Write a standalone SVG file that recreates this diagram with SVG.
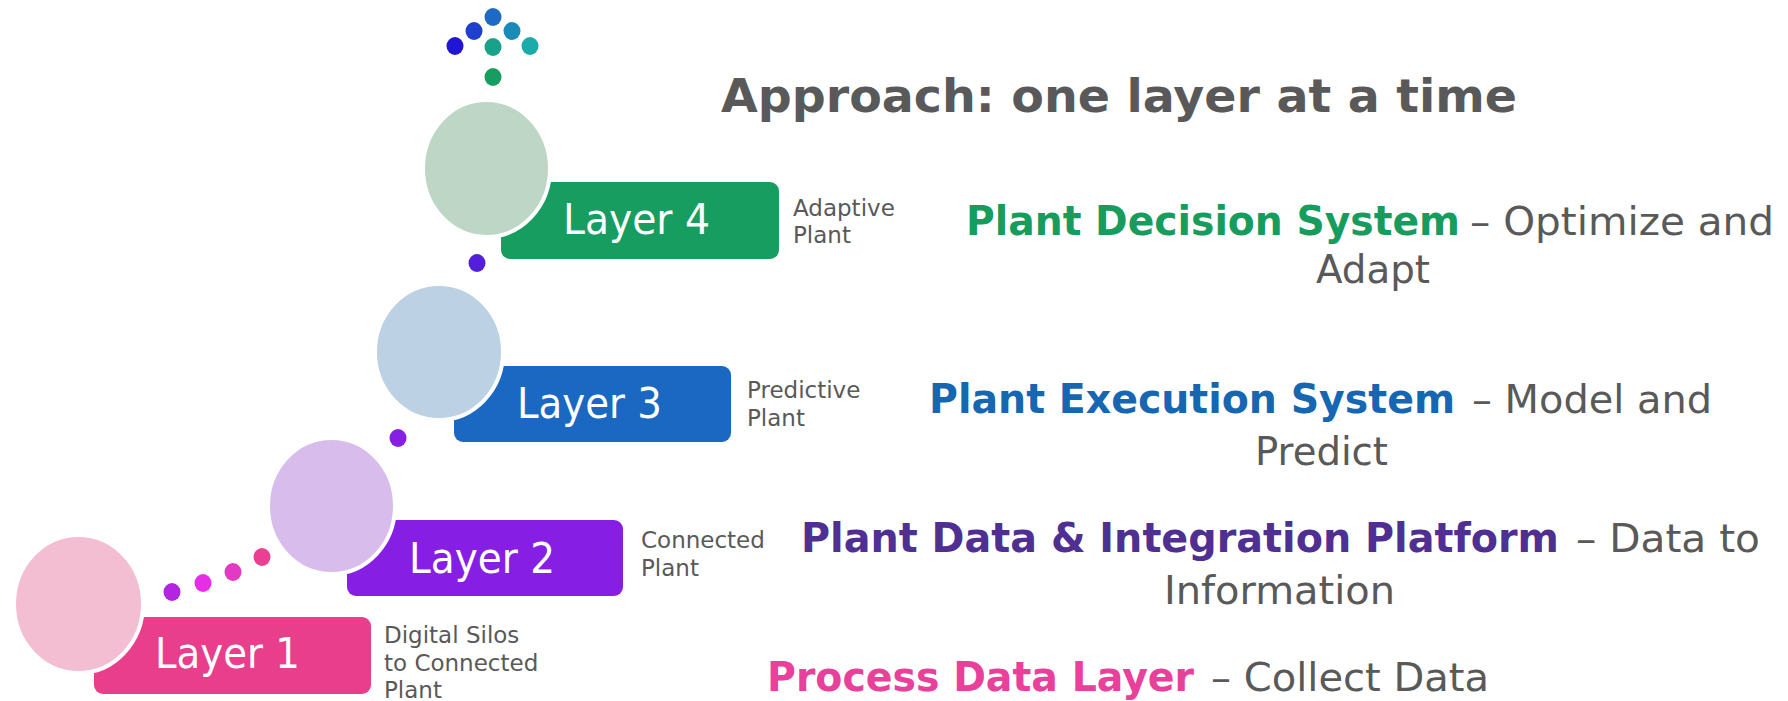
<svg xmlns="http://www.w3.org/2000/svg" width="1788" height="701" viewBox="0 0 1788 701">
  <style>
    .bubble { stroke: #ffffff; stroke-width: 4; }
    .box-label { font-family: "DejaVu Sans", Verdana, sans-serif; font-size: 42px; fill: #ffffff; }
    .side { font-family: "DejaVu Sans", Verdana, sans-serif; font-size: 23px; fill: #595959; }
    .title { font-family: "DejaVu Sans", Verdana, sans-serif; font-weight: bold; font-size: 46.5px; fill: #595959; }
    .head { font-family: "DejaVu Sans", Verdana, sans-serif; font-weight: bold; font-size: 40px; }
    .rest { font-family: "DejaVu Sans", Verdana, sans-serif; font-size: 39px; fill: #595959; }
  </style>
  <rect width="1788" height="701" fill="#ffffff"/>

  <!-- dotted trails between the stages -->
  <g id="connectors">
    <ellipse cx="172" cy="592" rx="8.5" ry="9" fill="#b325e0"/>
    <ellipse cx="203" cy="583" rx="8.5" ry="9" fill="#e62ee6"/>
    <ellipse cx="233" cy="572" rx="8.5" ry="9" fill="#e23ac2"/>
    <ellipse cx="262" cy="557" rx="8.5" ry="9" fill="#ea4093"/>
    <ellipse cx="398" cy="438" rx="8.5" ry="9" fill="#861ee3"/>
    <ellipse cx="477" cy="263" rx="8.5" ry="9" fill="#531fda"/>
    <!-- arrow-shaped cluster above the top stage -->
    <ellipse cx="493" cy="77" rx="8.5" ry="9" fill="#179c62"/>
    <ellipse cx="493" cy="47" rx="8.5" ry="9" fill="#19a28a"/>
    <ellipse cx="455" cy="46" rx="8.5" ry="9" fill="#1f15d2"/>
    <ellipse cx="474" cy="31" rx="8.5" ry="9" fill="#1e40cc"/>
    <ellipse cx="493" cy="17" rx="8.5" ry="9" fill="#1e69c3"/>
    <ellipse cx="512" cy="31" rx="8.5" ry="9" fill="#1a8ab8"/>
    <ellipse cx="530" cy="46" rx="8.5" ry="9" fill="#1aabaa"/>
  </g>

  <g id="layer1">
    <rect x="94" y="617" width="277" height="77" rx="9" fill="#e83e8c"/>
    <ellipse class="bubble" cx="78.5" cy="604" rx="64.5" ry="69" fill="#f4bed2"/>
    <text class="box-label" x="155" y="668" textLength="145" lengthAdjust="spacingAndGlyphs">Layer 1</text>
    <text class="side" x="384" y="643">Digital Silos</text>
    <text class="side" x="384" y="671">to Connected</text>
    <text class="side" x="384" y="698">Plant</text>
  </g>

  <g id="layer2">
    <rect x="347" y="520" width="276" height="76" rx="9" fill="#861ee3"/>
    <ellipse class="bubble" cx="331.5" cy="506" rx="63.5" ry="68" fill="#d8bdec"/>
    <text class="box-label" x="409" y="573" textLength="146" lengthAdjust="spacingAndGlyphs">Layer 2</text>
    <text class="side" x="641" y="548">Connected</text>
    <text class="side" x="641" y="576">Plant</text>
  </g>

  <g id="layer3">
    <rect x="454" y="366" width="277" height="76" rx="9" fill="#1a68c2"/>
    <ellipse class="bubble" cx="439" cy="352" rx="64" ry="68" fill="#bcd1e3"/>
    <text class="box-label" x="517" y="418" textLength="145" lengthAdjust="spacingAndGlyphs">Layer 3</text>
    <text class="side" x="747" y="398">Predictive</text>
    <text class="side" x="747" y="426">Plant</text>
  </g>

  <g id="layer4">
    <rect x="501" y="182" width="278" height="77" rx="9" fill="#179d60"/>
    <ellipse class="bubble" cx="486.5" cy="168.5" rx="63.5" ry="68.5" fill="#bdd6c6"/>
    <text class="box-label" x="563" y="234" textLength="147" lengthAdjust="spacingAndGlyphs">Layer 4</text>
    <text class="side" x="793" y="216">Adaptive</text>
    <text class="side" x="793" y="243">Plant</text>
  </g>

  <g id="title">
    <text class="title" x="721" y="112" textLength="796" lengthAdjust="spacingAndGlyphs">Approach: one layer at a time</text>
  </g>

  <g id="desc4">
    <text class="head" x="966" y="235" fill="#169c5c" textLength="494" lengthAdjust="spacingAndGlyphs">Plant Decision System</text>
    <text class="rest" x="1470" y="235" textLength="304" lengthAdjust="spacingAndGlyphs">– Optimize and</text>
    <text class="rest" x="1316" y="283" textLength="114" lengthAdjust="spacingAndGlyphs">Adapt</text>
  </g>

  <g id="desc3">
    <text class="head" x="929" y="413" fill="#1766b2" textLength="526" lengthAdjust="spacingAndGlyphs">Plant Execution System</text>
    <text class="rest" x="1472" y="413" textLength="240" lengthAdjust="spacingAndGlyphs">– Model and</text>
    <text class="rest" x="1255" y="465" textLength="133" lengthAdjust="spacingAndGlyphs">Predict</text>
  </g>

  <g id="desc2">
    <text class="head" x="801" y="552" fill="#4f2f91" textLength="758" lengthAdjust="spacingAndGlyphs">Plant Data &amp; Integration Platform</text>
    <text class="rest" x="1576" y="552" textLength="184" lengthAdjust="spacingAndGlyphs">– Data to</text>
    <text class="rest" x="1164" y="604" textLength="231" lengthAdjust="spacingAndGlyphs">Information</text>
  </g>

  <g id="desc1">
    <text class="head" x="767" y="691" fill="#e8409b" textLength="427" lengthAdjust="spacingAndGlyphs">Process Data Layer</text>
    <text class="rest" x="1211" y="691" textLength="278" lengthAdjust="spacingAndGlyphs">– Collect Data</text>
  </g>
</svg>
